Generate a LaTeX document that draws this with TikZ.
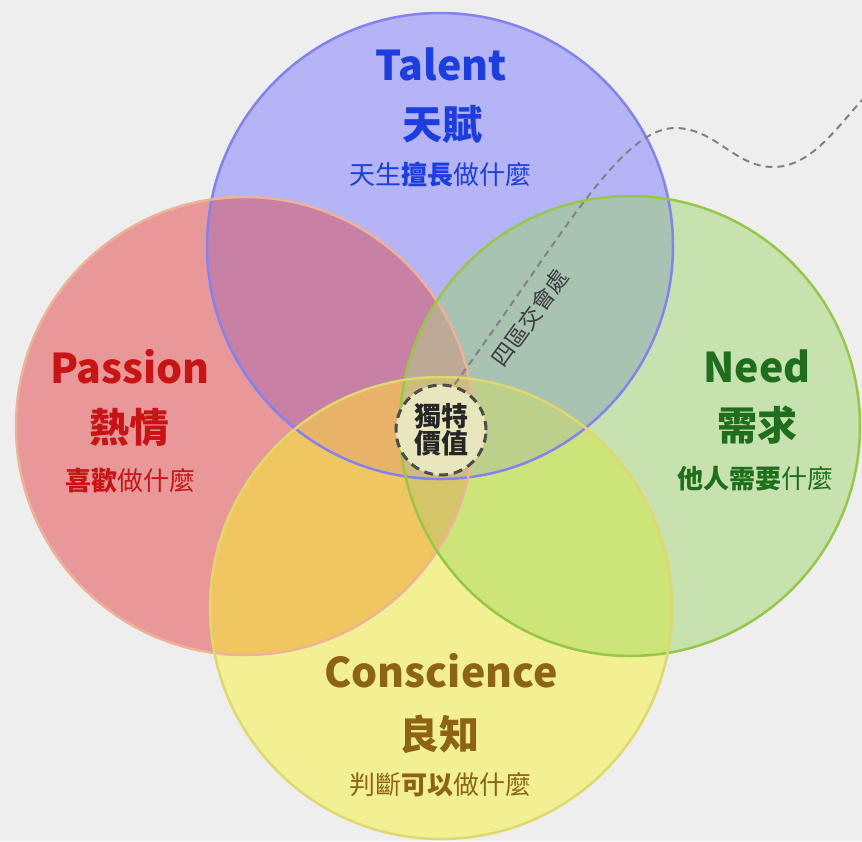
\documentclass[tikz,border=0pt]{standalone}
\usepackage{fontspec}
\newfontfamily\cjk{Noto Sans CJK TC}
\definecolor{bgc}{RGB}{238,238,238}
\definecolor{cB}{RGB}{180,180,246}
\definecolor{cR}{RGB}{232,152,152}
\definecolor{cG}{RGB}{200,226,175}
\definecolor{cY}{RGB}{243,240,148}
\definecolor{cRB}{RGB}{200,128,165}
\definecolor{cBG}{RGB}{168,195,178}
\definecolor{cRY}{RGB}{240,198,96}
\definecolor{cGY}{RGB}{205,228,120}
\definecolor{cRBG}{RGB}{190,168,150}
\definecolor{cRBY}{RGB}{232,178,104}
\definecolor{cBGY}{RGB}{188,208,140}
\definecolor{cRGY}{RGB}{214,197,104}
\definecolor{cRBGY}{RGB}{205,188,128}
\definecolor{lB}{RGB}{130,130,240}
\definecolor{lR}{RGB}{238,178,150}
\definecolor{lG}{RGB}{150,200,70}
\definecolor{lY}{RGB}{222,216,110}
\definecolor{tB}{RGB}{28,62,225}
\definecolor{tR}{RGB}{200,20,20}
\definecolor{tG}{RGB}{30,110,30}
\definecolor{tY}{RGB}{140,100,20}
\definecolor{uvfill}{RGB}{232,230,188}
\definecolor{dashc}{RGB}{130,130,130}
\definecolor{darkt}{RGB}{60,60,60}
\tikzset{
  title/.style={inner sep=0pt, anchor=base, font=\cjk\bfseries\fontsize{41}{48}\selectfont},
  cjktitle/.style={inner sep=0pt, anchor=center, font=\cjk\bfseries\fontsize{40}{46}\selectfont},
  sub/.style={inner sep=0pt, anchor=center, font=\cjk\fontsize{26}{30}\selectfont},
  uvbox/.style={circle, draw=black!70, fill=uvfill, line width=3pt, dash pattern=on 9pt off 6pt, minimum size=90pt, inner sep=0pt, align=center, font=\cjk\bfseries\fontsize{27}{31}\selectfont, text=black!85},
  conn/.style={draw=dashc, line width=2pt, dash pattern=on 7pt off 5pt},
  ring/.style={line width=2.5pt}
}
\begin{document}
\begin{tikzpicture}[x=1pt,y=-1pt]
\useasboundingbox (0,0) rectangle (862,841);
\fill[bgc] (0,0) rectangle (862,841);
\def\circB{(440,246) circle[radius=233pt]}
\def\circR{(245,426) circle[radius=229pt]}
\def\circG{(630,426) circle[radius=230pt]}
\def\circY{(441,608) circle[radius=231pt]}
% single fills
\fill[cB] \circB;
\fill[cR] \circR;
\fill[cG] \circG;
\fill[cY] \circY;
% pairs
\begin{scope}\clip \circR; \fill[cRB] \circB;\end{scope}
\begin{scope}\clip \circB; \fill[cBG] \circG;\end{scope}
\begin{scope}\clip \circR; \fill[cRY] \circY;\end{scope}
\begin{scope}\clip \circG; \fill[cGY] \circY;\end{scope}
% triples
\begin{scope}\clip \circR; \clip \circB; \fill[cRBG] \circG;\end{scope}
\begin{scope}\clip \circR; \clip \circB; \fill[cRBY] \circY;\end{scope}
\begin{scope}\clip \circB; \clip \circG; \fill[cBGY] \circY;\end{scope}
\begin{scope}\clip \circR; \clip \circG; \fill[cRGY] \circY;\end{scope}
% quadruple
\begin{scope}\clip \circR; \clip \circB; \clip \circG; \fill[cRBGY] \circY;\end{scope}
% rings
\draw[ring, lB] \circB;
\draw[ring, lR] \circR;
\draw[ring, lG] \circG;
\draw[ring, lY] \circY;
% texts
\node[title, text=tB] (talent) at (441,80) {Talent};
\node[cjktitle, text=tB] (talentzh) at (442,124) {天賦};
\node[sub, text=tB] (talentsub) at (440,175) {天生\textbf{擅長}做什麼};
\node[title, text=tR] (passion) at (130,383) {Passion};
\node[cjktitle, text=tR] (passionzh) at (129,427) {熱情};
\node[sub, text=tR] (passionsub) at (130,481) {\textbf{喜歡}做什麼};
\node[title, text=tG] (need) at (757,382) {Need};
\node[cjktitle, text=tG] (needzh) at (757,425) {需求};
\node[sub, text=tG] (needsub) at (755,479) {\textbf{他人需要}什麼};
\node[title, text=tY] (consc) at (441,687) {Conscience};
\node[cjktitle, text=tY] (consczh) at (439,734) {良知};
\node[sub, text=tY] (conscsub) at (440,785) {判斷\textbf{可以}做什麼};
% center
\coordinate (lineend) at (862,100);
\draw[conn] (441,430) -- (452,388) .. controls (560,240) and (620,128) .. (675,128) .. controls (715,128) and (735,167) .. (773,167) .. controls (810,167) and (835,130) .. (lineend);
\node[uvbox] (uv) at (441,430) {獨特\\[-4pt]價值};
\node[inner sep=0pt, rotate=54, text=darkt, font=\cjk\fontsize{22.5}{26}\selectfont] (four) at (530,318) {四區交會處};
\end{tikzpicture}
\end{document}
